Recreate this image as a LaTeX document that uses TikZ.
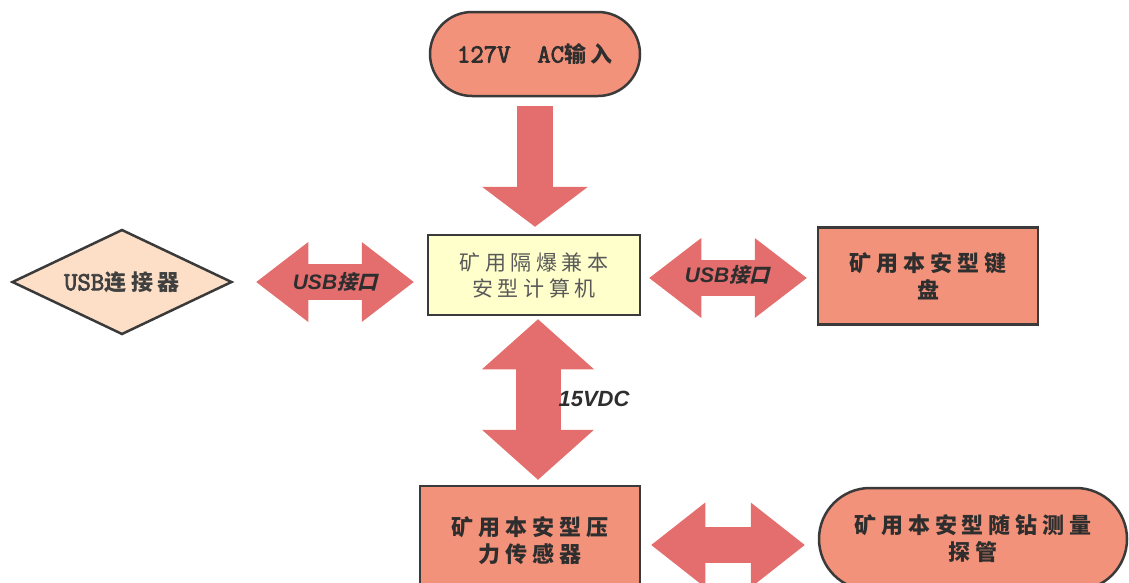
\documentclass[tikz,border=0pt]{standalone}
\usepackage{fontspec}
\newfontfamily\cjk[LetterSpace=22]{Noto Sans CJK SC}
\newfontfamily\cjkit[FakeSlant=0.25]{Noto Sans CJK SC}
\newfontfamily\monob[FakeBold=3]{Latin Modern Mono}
\newfontfamily\arial{Liberation Sans}
\usetikzlibrary{shapes.geometric,shapes.misc,arrows.meta}

\definecolor{salmon}{HTML}{F3927A}
\definecolor{peach}{HTML}{FCDFC6}
\definecolor{paleyellow}{HTML}{FFFFCC}
\definecolor{arrowred}{HTML}{E46E6E}
\definecolor{edge}{HTML}{3A3A3A}
\definecolor{ink}{HTML}{2E2E2E}

\tikzset{
  box/.style={draw=edge, line width=2.5pt, fill=salmon, text=ink, align=center,
    inner sep=0pt, font=\cjk\bfseries\fontsize{22}{27}\selectfont},
  term/.style={box, rounded rectangle},
  onearrow/.style={arrowred, line width=36pt,
    -{Triangle[length=40pt, width=106pt, line width=0pt]}},
  twoarrow/.style n args={3}{arrowred, line width=#1,
    {Triangle[length=#2, width=#3, line width=0pt]}-{Triangle[length=#2, width=#3, line width=0pt]}},
  arrowlabel/.style={text=ink, inner sep=0pt}
}
\newcommand{\usblabel}{{\arial\bfseries\itshape\fontsize{21}{21}\selectfont USB}{\cjkit\bfseries\fontsize{20}{20}\selectfont 接口}}

\begin{document}
\begin{tikzpicture}[x=1pt,y=-1pt]
\useasboundingbox (0,0) rectangle (1129,582);
% boxes
\node[term, minimum width=210pt, minimum height=84pt] (ac) at (535,54)
  {{\monob\fontsize{26}{26}\selectfont 127V\ \ AC}输入};
\node[box, fill=paleyellow, text=black!65, font=\cjk\fontsize{21}{26}\selectfont,
  minimum width=212pt, minimum height=80pt] (pc) at (534,275)
  {矿用隔爆兼本\\安型计算机};
\node[box, diamond, fill=peach, aspect=2.1, minimum width=220pt, minimum height=105pt,
  text=black!75] (usb) at (122,282)
  {{\monob\fontsize{26}{26}\selectfont USB}连接器};
\node[box, minimum width=220pt, minimum height=97pt] (kb) at (928,276)
  {矿用本安型键\\盘};
\node[box, minimum width=220pt, minimum height=110pt] (ps) at (530,541)
  {矿用本安型压\\力传感器};
\node[term, minimum width=308pt, minimum height=102pt] (probe) at (973,539)
  {矿用本安型随钻测量\\探管};
% block arrows
\draw[onearrow] ([yshift=-9pt]ac.south) -- ([yshift=7pt]ac.south |- pc.north);
\draw[twoarrow={36pt}{52pt}{80pt}] ([xshift=23pt]usb.east) -- ([xshift=-13pt]usb.east -| pc.west);
\draw[twoarrow={36pt}{52pt}{80pt}] ([xshift=8pt,yshift=-3pt]pc.east) -- ([xshift=-10pt,yshift=-3pt]pc.east -| kb.west);
\draw[twoarrow={45pt}{50pt}{112pt}] ([xshift=4pt,yshift=-3pt]pc.south) -- ([xshift=4pt,yshift=5pt]pc.south |- ps.north);
\draw[twoarrow={36pt}{54pt}{85pt}] ([xshift=10pt,yshift=-4pt]ps.east) -- ([xshift=-13pt,yshift=-4pt]ps.east -| probe.west);
% labels
\node[arrowlabel] (usbl) at (335,282) {\usblabel};
\node[arrowlabel] (usbr) at (727,275) {\usblabel};
\node[arrowlabel, font=\arial\bfseries\itshape\fontsize{22}{22}\selectfont] (vdc) at (594,399) {15VDC};
\end{tikzpicture}
\end{document}
